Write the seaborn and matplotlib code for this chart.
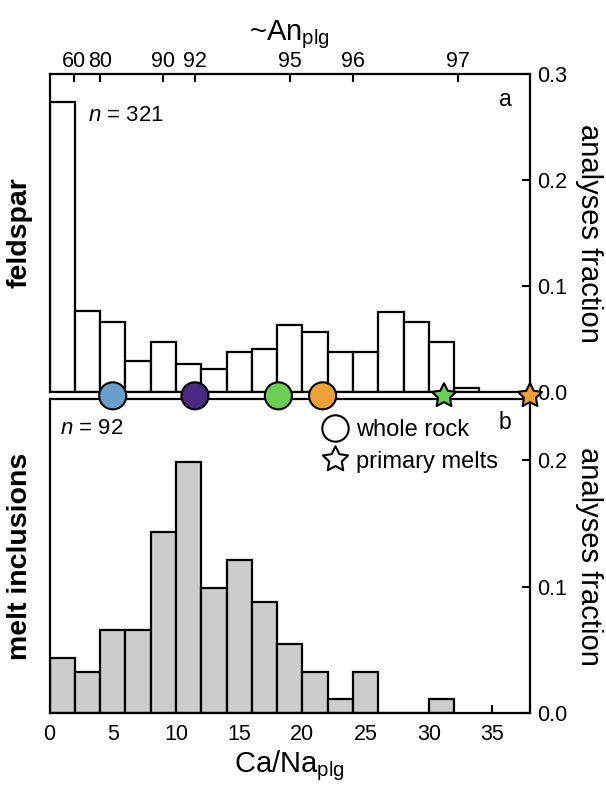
import numpy as np
import pandas as pd
import matplotlib
matplotlib.use("Agg")
import matplotlib.pyplot as plt
import matplotlib.path as mpath
from matplotlib.lines import Line2D
import seaborn as sns

# DATA
bin_edges_fsp = np.arange(0, 36, 2)
fsp_fraction = [0.274, 0.076, 0.066, 0.029, 0.047, 0.026, 0.022, 0.038, 0.041,
                0.063, 0.057, 0.038, 0.038, 0.075, 0.066, 0.047, 0.004]
bin_edges_mi = np.arange(0, 34, 2)
mi_fraction = [0.044, 0.033, 0.066, 0.066, 0.143, 0.198, 0.099, 0.121,
               0.088, 0.055, 0.033, 0.011, 0.033, 0.0, 0.0, 0.011]

# Ca/Na of whole rocks and primary melts
wholerock_cana = [5.0, 11.5, 18.1, 21.6]
wholerock_colors = ['#6a9fcb', '#4a2a80', '#6bcf55', '#f0a038']
primary_cana = [31.2, 38.0]
primary_colors = ['#6bcf55', '#f0a038']

# top axis: An content of plagioclase at Ca/Na positions
an_labels = ['60', '80', '90', '92', '95', '96', '97']
an_positions = [1.9, 4.0, 9.0, 11.5, 19.0, 24.0, 32.3]

n_fsp = 321
n_mi = 92

fsp_df = pd.DataFrame({'cana': bin_edges_fsp[:-1] + 1.0, 'frac': fsp_fraction})
mi_df = pd.DataFrame({'cana': bin_edges_mi[:-1] + 1.0, 'frac': mi_fraction})

# STYLE
sns.set_theme(style='ticks')
plt.rcParams['font.family'] = ['Liberation Sans', 'DejaVu Sans']
plt.rcParams['mathtext.fontset'] = 'custom'
plt.rcParams['mathtext.rm'] = 'Liberation Sans'
plt.rcParams['mathtext.it'] = 'Liberation Sans:italic'
plt.rcParams['axes.linewidth'] = 1.6
for key in ['text.color', 'axes.labelcolor', 'xtick.color', 'ytick.color',
            'axes.edgecolor']:
    plt.rcParams[key] = 'black'

fig = plt.figure(figsize=(6.06, 7.87), dpi=100)
ax_top = fig.add_axes([0.0817, 0.5019, 0.7929, 0.4041])
ax_bot = fig.add_axes([0.0817, 0.0936, 0.7929, 0.3994])
ax_top.set_zorder(3)
ax_top.patch.set_alpha(0)

# histograms
sns.histplot(data=fsp_df, x='cana', weights='frac', bins=list(bin_edges_fsp),
             stat='count', color='white', edgecolor='black', linewidth=1.6,
             alpha=1, ax=ax_top)
sns.histplot(data=mi_df, x='cana', weights='frac', bins=list(bin_edges_mi),
             stat='count', color='#cccccc', edgecolor='black', linewidth=1.6,
             alpha=1, ax=ax_bot)

# whole rock and primary melt markers, sitting on the panel boundary
marker_y = -0.0036
fat_star = mpath.Path.unit_regular_star(5, innerCircle=0.5)
sns.scatterplot(x=wholerock_cana, y=[marker_y] * len(wholerock_cana),
                hue=wholerock_colors, palette=dict(zip(wholerock_colors, wholerock_colors)),
                s=380, marker='o', edgecolor='black', linewidth=1.5,
                legend=False, clip_on=False, zorder=10, ax=ax_top)
sns.scatterplot(x=primary_cana, y=[marker_y] * len(primary_cana),
                hue=primary_colors, palette=dict(zip(primary_colors, primary_colors)),
                s=330, marker=fat_star, edgecolor='black', linewidth=1.5,
                legend=False, clip_on=False, zorder=10, ax=ax_top)

for ax in (ax_top, ax_bot):
    ax.set_xlim(0, 38)
    ax.yaxis.tick_right()
    ax.yaxis.set_label_position('right')
    ax.set_ylabel('analyses fraction', rotation=270, fontsize=21, labelpad=26)
    ax.tick_params(axis='y', direction='in', length=6, width=1.5,
                   labelsize=15.5, pad=5, left=False)
    for sp in ax.spines.values():
        sp.set_visible(True)
        sp.set_linewidth(1.6)

# top panel
ax_top.set_ylim(0, 0.3)
ax_top.set_yticks([0.0, 0.1, 0.2, 0.3])
ax_top.xaxis.tick_top()
ax_top.xaxis.set_label_position('top')
ax_top.set_xticks(an_positions)
ax_top.set_xticklabels(an_labels)
ax_top.tick_params(axis='x', direction='in', length=6, width=1.5,
                   labelsize=15.5, pad=1.5, bottom=False)
ax_top.set_xlabel('~An$_{\\mathrm{plg}}$', fontsize=21, labelpad=8)
ax_top.text(-0.062, 0.5, 'feldspar', rotation=90, fontsize=20.5,
            fontweight='bold', ha='center', va='center', transform=ax_top.transAxes)
ax_top.text(0.08, 0.87, '$n$ = %d' % n_fsp, fontsize=16, ha='left', va='center',
            transform=ax_top.transAxes)
ax_top.text(0.948, 0.921, 'a', fontsize=16.5, ha='center', va='center',
            transform=ax_top.transAxes)

# bottom panel
ax_bot.set_ylim(0, 0.248)
ax_bot.set_yticks([0.0, 0.1, 0.2])
ax_bot.set_xticks(np.arange(0, 40, 5))
ax_bot.tick_params(axis='x', direction='in', length=6, width=1.5,
                   labelsize=15.5, pad=8, top=False)
ax_bot.set_xlabel('Ca/Na$_{\\mathrm{plg}}$', fontsize=21, labelpad=2)
ax_bot.text(-0.062, 0.5, 'melt inclusions', rotation=90, fontsize=20.5,
            fontweight='bold', ha='center', va='center', transform=ax_bot.transAxes)
ax_bot.text(0.022, 0.905, '$n$ = %d' % n_mi, fontsize=16, ha='left', va='center',
            transform=ax_bot.transAxes)
ax_bot.text(0.948, 0.924, 'b', fontsize=16.5, ha='center', va='center',
            transform=ax_bot.transAxes)

handles = [
    Line2D([], [], ls='none', marker='o', markersize=19, markerfacecolor='white',
           markeredgecolor='black', markeredgewidth=1.5, label='whole rock'),
    Line2D([], [], ls='none', marker=fat_star, markersize=19, markerfacecolor='white',
           markeredgecolor='black', markeredgewidth=1.5, label='primary melts'),
]
ax_bot.legend(handles=handles, loc='upper left', bbox_to_anchor=(0.565, 0.937),
              frameon=False, fontsize=17, borderpad=0, borderaxespad=0,
              handlelength=1.2, handletextpad=0.3, labelspacing=0.42)

fig.savefig('out.png', dpi=100)
